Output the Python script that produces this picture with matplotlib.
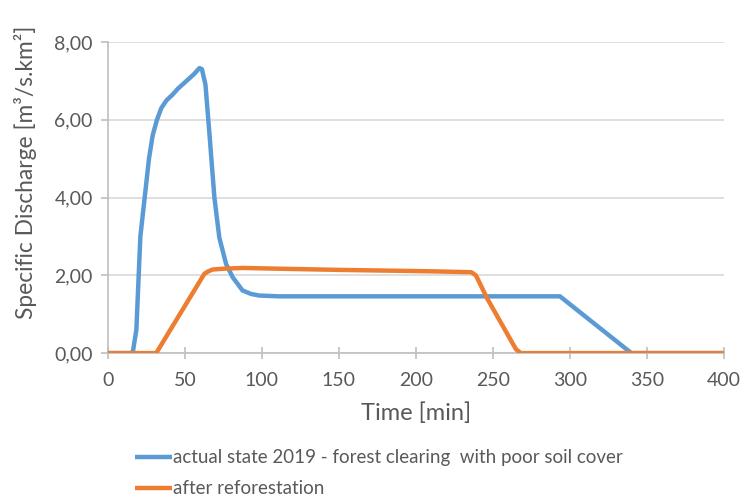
import matplotlib
matplotlib.use("Agg")
import matplotlib.pyplot as plt
from matplotlib.ticker import FuncFormatter

time_actual = [0, 15, 16.2, 18.4, 21, 23.8, 26.6, 29, 31.8, 34.6, 38, 42, 45.4, 51, 56, 59.4,
               61, 63.3, 65.9, 69.1, 72.3, 76.7, 81, 87.4, 93, 98.3, 111, 150, 200, 250, 293.6, 340, 400]
q_actual = [0, 0, 0.05, 0.6, 3.0, 4.0, 5.0, 5.6, 6.0, 6.3, 6.5, 6.65, 6.8, 7.0, 7.18, 7.33,
            7.3, 6.9, 5.63, 4.0, 2.97, 2.29, 1.95, 1.61, 1.52, 1.48, 1.46, 1.46, 1.46, 1.46, 1.46, 0, 0]

time_refor = [0, 31.3, 62.6, 65, 68, 75, 87.4, 111, 150, 200, 214, 236, 239, 246.4, 265, 268.2, 400]
q_refor = [0, 0, 2.04, 2.1, 2.15, 2.17, 2.19, 2.17, 2.14, 2.11, 2.1, 2.08, 2.0, 1.4, 0.1, 0, 0]

labels = ["actual state 2019 - forest clearing  with poor soil cover", "after reforestation"]
colors = ["#5B9BD5", "#ED7D31"]

plt.rcParams['font.family'] = ['Lato', 'DejaVu Sans']
text_col = "#595959"

fig = plt.figure(figsize=(7.4, 5.03), dpi=100)
ax = fig.add_axes([0.146, 0.298, 0.832, 0.6185])

l1, = ax.plot(time_actual, q_actual, color=colors[0], linewidth=3.2, solid_capstyle='butt',
              solid_joinstyle='round', label=labels[0], zorder=3)
l2, = ax.plot(time_refor, q_refor, color=colors[1], linewidth=3.2, solid_capstyle='butt',
              solid_joinstyle='round', label=labels[1], zorder=3)

ax.set_xlim(0, 400)
ax.set_ylim(0, 8)
ax.set_xticks(range(0, 401, 50))
ax.set_yticks([0, 2, 4, 6, 8])
ax.yaxis.set_major_formatter(FuncFormatter(lambda v, p: f"{v:.2f}".replace(".", ",")))

ax.grid(axis='y', color='#d9d9d9', linewidth=1.2)
ax.set_axisbelow(True)
for s in ['top', 'right']:
    ax.spines[s].set_visible(False)
ax.spines['left'].set_color('#bfbfbf')
ax.spines['bottom'].set_color('#bfbfbf')
ax.spines['left'].set_linewidth(1.2)
ax.spines['bottom'].set_linewidth(1.2)
ax.tick_params(axis='x', direction='inout', length=9, width=1.2, color='#bfbfbf',
               labelsize=14, labelcolor=text_col, pad=9)
ax.tick_params(axis='y', direction='out', length=5, width=1.2, color='#bfbfbf',
               labelsize=14, labelcolor=text_col, pad=6)

ax.set_xlabel("Time [min]", fontsize=17, color=text_col, labelpad=10)
ax.set_ylabel("Specific Discharge [m³/s.km²]", fontsize=16.4, color=text_col)
ax.yaxis.set_label_coords(-0.115, 0.58)

fig.legend(handles=[l1, l2], loc='upper left', bbox_to_anchor=(0.172, 0.122), frameon=False,
           fontsize=13.5, labelcolor=text_col, handlelength=2.0, handletextpad=0.05,
           labelspacing=0.75, borderaxespad=0)

fig.savefig("out.png", dpi=100)
